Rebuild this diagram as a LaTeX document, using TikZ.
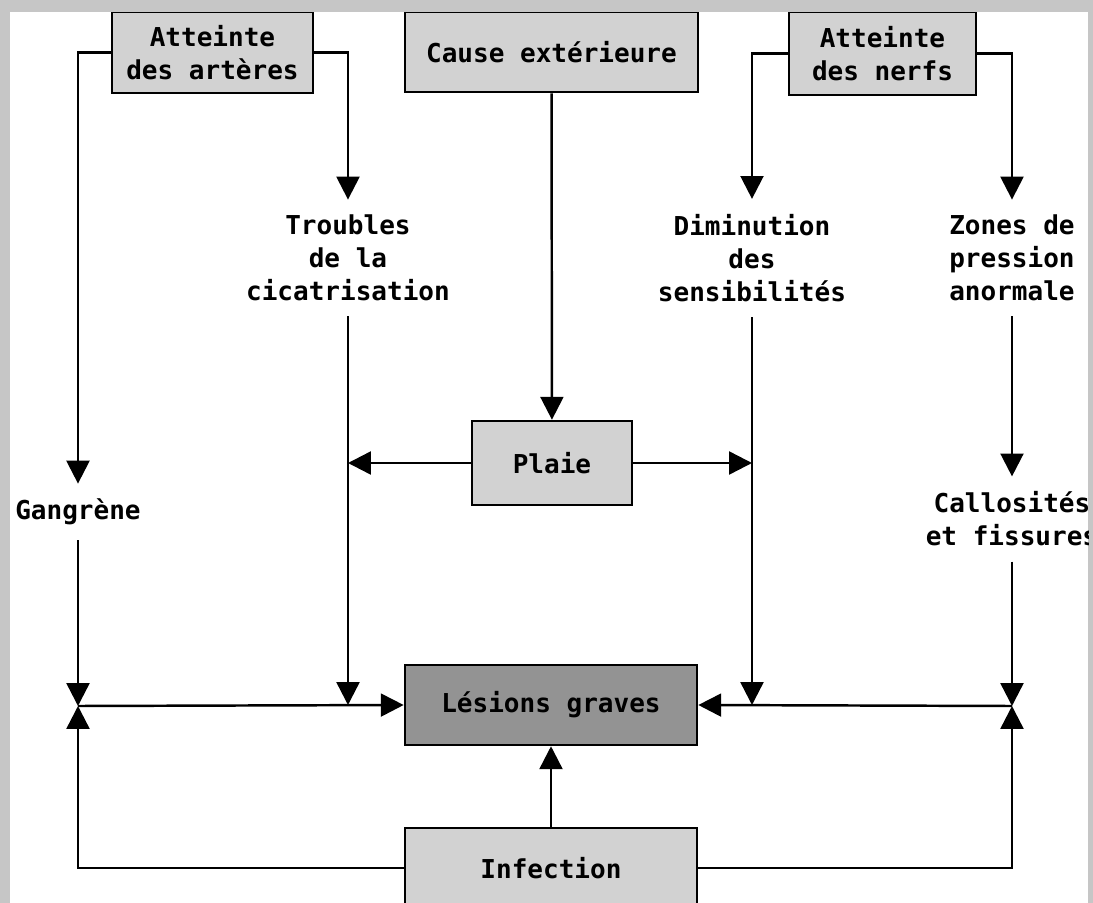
\documentclass[tikz,border=0pt]{standalone}
\usepackage{fontspec}
\setmonofont{DejaVu Sans Mono}
\usetikzlibrary{arrows.meta}
\begin{document}
\begin{tikzpicture}[x=0.01cm, y=-0.01cm,
            line width=0.7pt,
            >={Triangle[length=6.5pt,width=6.5pt]},
            every node/.style={font=\ttfamily\bfseries\fontsize{7.4pt}{9.4pt}\selectfont, align=center},
            box/.style={draw, fill=gray!35, inner sep=0pt},
            label/.style={inner sep=4pt}
            ]
            \useasboundingbox (0,0) rectangle (1093,903);
            \fill[gray!45] (0,0) rectangle (1093,903);
            \fill[white] (10,12) rectangle (1088,903);
            \clip (10,12) rectangle (1088,903);

            \node[box, minimum width=2.01cm, minimum height=0.81cm] (art) at (212.5,52.5) {Atteinte\\des artères};
            \node[box, minimum width=2.93cm, minimum height=0.80cm] (cause) at (551.5,52) {Cause extérieure};
            \node[box, minimum width=1.87cm, minimum height=0.83cm] (nerfs) at (882.5,53.5) {Atteinte\\des nerfs};

            \node[label] (troubles) at (348,258) {Troubles\\de la\\cicatrisation};
            \node[label] (dimin) at (752,258) {Diminution\\des\\sensibilités};
            \node[label] (zones) at (1012,258) {Zones de\\pression\\anormale};
            \node[label] (gangrene) at (78,512) {Gangrène};
            \node[label] (callos) at (1012,519) {Callosités\\et fissures};

            \node[box, minimum width=1.60cm, minimum height=0.84cm] (plaie) at (552,463) {Plaie};
            \node[box, fill=gray!85, minimum width=2.92cm, minimum height=0.80cm] (lesions) at (551,705) {Lésions graves};
            \node[box, minimum width=2.92cm, minimum height=0.80cm] (infection) at (551,868) {Infection};

            \coordinate (jl) at (78,706);
            \coordinate (jr) at (1012,706);

            \draw[->] (art.west) -| (gangrene.north);
            \draw[->] (art.east) -| (troubles.north);
            \draw[->] (cause) -- (plaie);
            \draw[->] (nerfs.west) -| (dimin.north);
            \draw[->] (nerfs.east) -| (zones.north);
            \draw[->] (zones) -- (callos);
            \draw[->] (plaie.west) -- (plaie.west -| troubles.south);
            \draw[->] (plaie.east) -- (plaie.east -| dimin.south);
            \draw[->] (gangrene) -- (jl);
            \draw[->] (callos) -- (jr);
            \draw[->] (troubles) -- (troubles |- lesions.west);
            \draw[->] (dimin) -- (dimin |- lesions.east);
            \draw[->] (jl) -- (lesions.west);
            \draw[->] (jr) -- (lesions.east);
            \draw[->] (infection.west) -| (jl);
            \draw[->] (infection.east) -| (jr);
            \draw[->] (infection) -- (lesions);
            \end{tikzpicture}
\end{document}
